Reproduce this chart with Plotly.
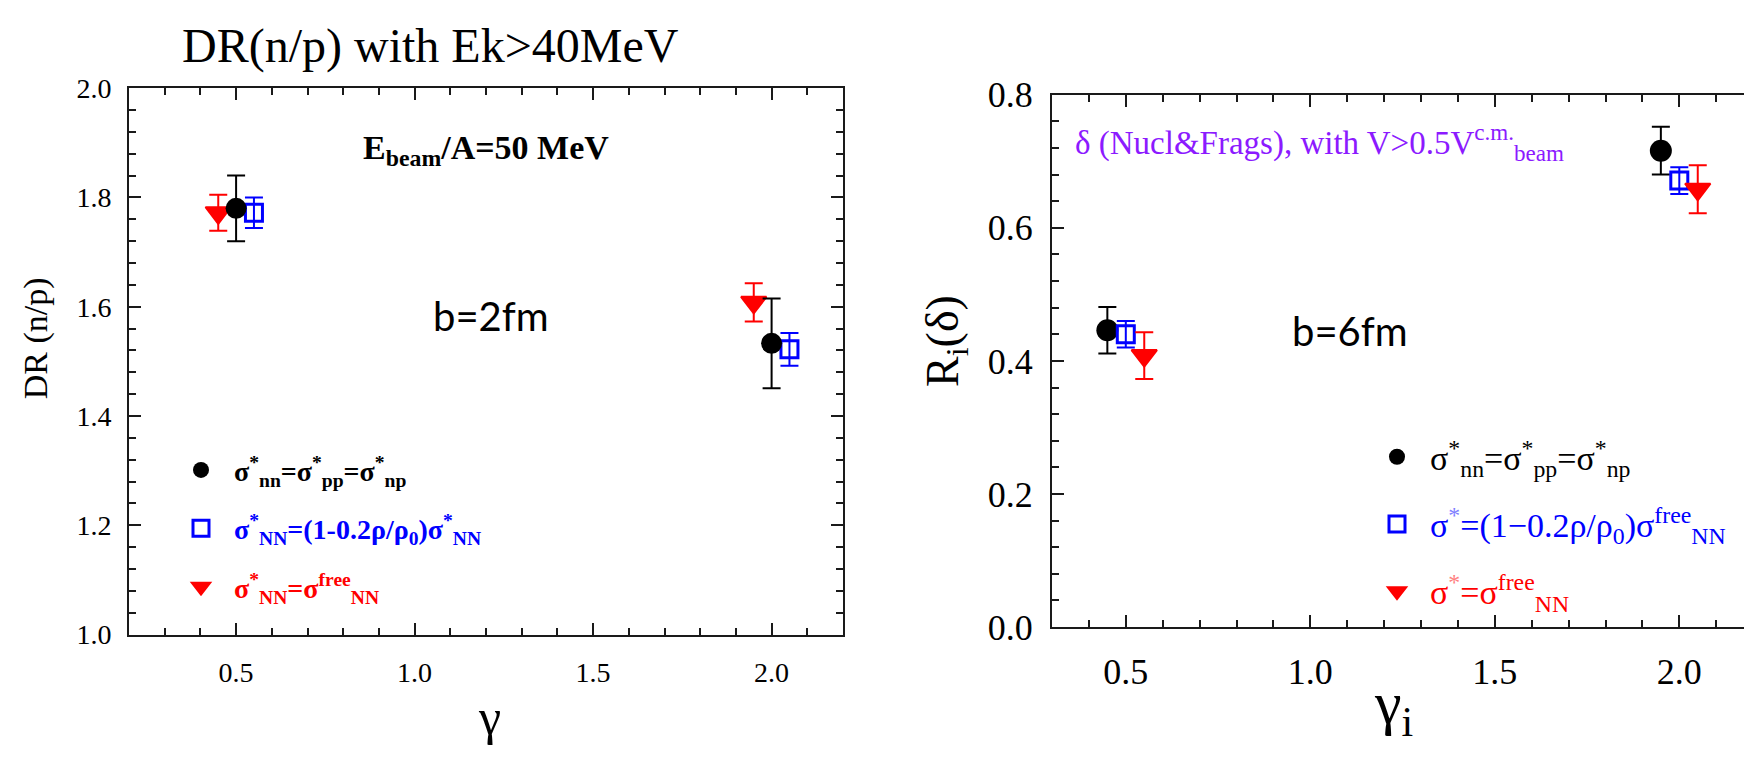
import plotly.graph_objects as go

# ---- data: DR(n/p), b = 2 fm ----
gamma_nn = [0.5, 2.0]
dr_nn = [1.780, 1.533]
dr_nn_err = [0.060, 0.082]

gamma_med = [0.55, 2.05]
dr_med = [1.772, 1.522]
dr_med_err = [0.028, 0.030]

gamma_free = [0.45, 1.95]
dr_free = [1.772, 1.608]
dr_free_err = [0.033, 0.035]

# ---- data: R_i(delta), b = 6 fm ----
gi_nn = [0.45, 1.95]
ri_nn = [0.446, 0.716]
ri_nn_err = [0.035, 0.036]

gi_med = [0.5, 2.0]
ri_med = [0.440, 0.671]
ri_med_err = [0.020, 0.020]

gi_free = [0.55, 2.05]
ri_free = [0.408, 0.658]
ri_free_err = [0.035, 0.036]

W, H = 1744, 757
SERIF = "Liberation Serif, Times New Roman, serif"
BLACK, BLUE, RED, PURPLE = "#000000", "#0000ff", "#ff0000", "#8c1aff"


def px(x):
    return x / W


def py(y):
    return 1 - y / H


def err(vals, color):
    return dict(type="data", array=vals, visible=True, color=color,
                thickness=2, width=9)


def circle(color, size):
    return dict(symbol="circle", size=size, color=color)


def square(color):
    return dict(symbol="square-open", size=17, color=color,
                line=dict(width=3, color=color))


def tri(color):
    return dict(symbol="triangle-down", size=22, color=color,
                line=dict(width=2, color=color))


fig = go.Figure()

# left panel (red first so the circle sits on top)
left_names = [
    "<b>σ<sup>*</sup><sub>nn</sub>=σ<sup>*</sup><sub>pp</sub>=σ<sup>*</sup><sub>np</sub></b>",
    "<b><span style='color:#0000ff'>σ<sup>*</sup><sub>NN</sub>=(1-0.2ρ/ρ<sub>0</sub>)σ<sup>*</sup><sub>NN</sub></span></b>",
    "<b><span style='color:#ff0000'>σ<sup>*</sup><sub>NN</sub>=σ<sup>free</sup><sub>NN</sub></span></b>",
]
fig.add_trace(go.Scatter(x=gamma_free, y=dr_free, mode="markers",
                         marker=tri(RED), error_y=err(dr_free_err, RED),
                         name=left_names[2], legend="legend", legendgroup="l3",
                         legendrank=3, xaxis="x", yaxis="y"))
fig.add_trace(go.Scatter(x=gamma_med, y=dr_med, mode="markers",
                         marker=square(BLUE), error_y=err(dr_med_err, BLUE),
                         name=left_names[1], legend="legend", legendgroup="l2",
                         legendrank=2, xaxis="x", yaxis="y"))
fig.add_trace(go.Scatter(x=gamma_nn, y=dr_nn, mode="markers",
                         marker=circle(BLACK, 21), error_y=err(dr_nn_err, BLACK),
                         name=left_names[0], legend="legend", legendgroup="l1",
                         legendrank=1, xaxis="x", yaxis="y"))

# right panel
right_names = [
    "σ<sup>*</sup><sub>nn</sub>=σ<sup>*</sup><sub>pp</sub>=σ<sup>*</sup><sub>np</sub>",
    "<span style='color:#0000ff'>σ<sup><span style='color:#7f7fff'>*</span></sup>=(1−0.2ρ/ρ<sub>0</sub>)σ<sup>free</sup><sub>NN</sub></span>",
    "<span style='color:#ff0000'>σ<sup><span style='color:#ff8080'>*</span></sup>=σ<sup>free</sup><sub>NN</sub></span>",
]
fig.add_trace(go.Scatter(x=gi_nn, y=ri_nn, mode="markers",
                         marker=circle(BLACK, 22), error_y=err(ri_nn_err, BLACK),
                         name=right_names[0], legend="legend2", legendgroup="r1",
                         legendrank=1, xaxis="x2", yaxis="y2"))
fig.add_trace(go.Scatter(x=gi_med, y=ri_med, mode="markers",
                         marker=square(BLUE), error_y=err(ri_med_err, BLUE),
                         name=right_names[1], legend="legend2", legendgroup="r2",
                         legendrank=2, xaxis="x2", yaxis="y2"))
fig.add_trace(go.Scatter(x=gi_free, y=ri_free, mode="markers",
                         marker=tri(RED), error_y=err(ri_free_err, RED),
                         name=right_names[2], legend="legend2", legendgroup="r3",
                         legendrank=3, xaxis="x2", yaxis="y2"))


def xax(dom, rng, size, mirror):
    return dict(domain=dom, range=rng, dtick=0.5, tick0=0, tickformat=".1f",
                showline=True, linewidth=2, linecolor="#1a1a1a", mirror=mirror,
                ticks="inside", ticklen=12, tickwidth=2, tickcolor="#1a1a1a",
                minor=dict(dtick=0.1, ticks="inside", ticklen=7, tickwidth=2,
                           tickcolor="#1a1a1a"),
                showgrid=False, zeroline=False, ticklabelstandoff=12,
                tickfont=dict(family=SERIF, size=size, color="black"))


def yax(dom, rng, size, mirror, anchor):
    return dict(domain=dom, range=rng, dtick=0.2, tick0=0, tickformat=".1f",
                anchor=anchor,
                showline=True, linewidth=2, linecolor="#1a1a1a", mirror=mirror,
                ticks="inside", ticklen=12, tickwidth=2, tickcolor="#1a1a1a",
                minor=dict(dtick=0.04, ticks="inside", ticklen=7, tickwidth=2,
                           tickcolor="#1a1a1a"),
                showgrid=False, zeroline=False, ticklabelstandoff=10,
                tickfont=dict(family=SERIF, size=size, color="black"))


annotations = [
    dict(text="DR(n/p) with Ek>40MeV", x=px(430), y=py(29),
         font=dict(family=SERIF, size=48, color="black")),
    dict(text="<b>E<sub>beam</sub>/A=50 MeV</b>", x=px(361), y=py(138), xanchor="left",
         font=dict(family=SERIF, size=34, color="black")),
    dict(text="b=2fm", x=px(491), y=py(314),
         font=dict(family="Lato", size=40, color="black")),
    dict(text="b=6fm", x=px(1350), y=py(329),
         font=dict(family="Lato", size=40, color="black")),
    dict(text="δ (Nucl&amp;Frags), with V>0.5V<sup>c.m.</sup><sub>beam</sub>",
         x=px(1073), y=py(130), xanchor="left",
         font=dict(family=SERIF, size=33, color=PURPLE)),
    dict(text="DR (n/p)", x=px(36), y=py(337), textangle=-90,
         font=dict(family=SERIF, size=34, color="black")),
    dict(text="γ", x=px(489), y=py(737),
         font=dict(family=SERIF, size=50, color="black")),
    dict(text="R<sub>i</sub>(δ)", x=px(946), y=py(340), textangle=-90,
         font=dict(family=SERIF, size=46, color="black")),
    dict(text="γ<sub>i</sub>", x=px(1393), y=py(727),
         font=dict(family=SERIF, size=60, color="black")),
]
for a in annotations:
    a.setdefault("xanchor", "center")
    a.update(xref="paper", yref="paper", yanchor="middle", showarrow=False)

fig.update_layout(
    width=W, height=H,
    margin=dict(l=0, r=0, t=0, b=0),
    font=dict(family=SERIF, color="black"),
    paper_bgcolor="white", plot_bgcolor="white",
    xaxis=xax([px(129), px(843)], [0.2, 2.2], 28, "ticks") | dict(anchor="y"),
    yaxis=yax([py(650), py(73)], [1.0, 2.0], 28, "ticks", "x"),
    xaxis2=xax([px(1052), 1.0], [0.3, 0.3 + 692 / 369], 36, "ticks") | dict(anchor="y2"),
    yaxis2=yax([py(642), py(80)], [0.0, 0.8], 36, False, "x2"),
    legend=dict(x=px(168), y=py(450), xanchor="left", yanchor="top",
                bgcolor="rgba(0,0,0,0)", tracegroupgap=19, itemwidth=56,
                font=dict(family=SERIF, size=28, color="black")),
    legend2=dict(x=px(1364), y=py(432), xanchor="left", yanchor="top",
                 bgcolor="rgba(0,0,0,0)", tracegroupgap=20, itemwidth=56,
                 font=dict(family=SERIF, size=34, color="black")),
    annotations=annotations,
)

fig.write_html("out.html")
